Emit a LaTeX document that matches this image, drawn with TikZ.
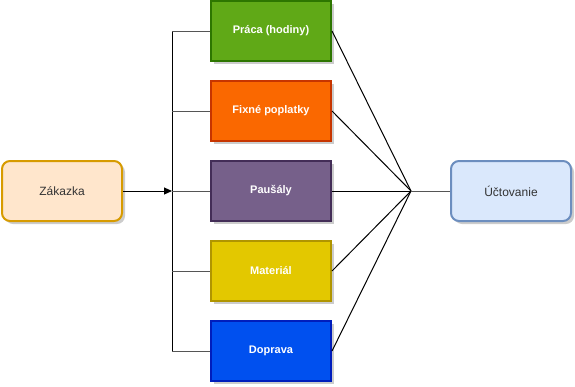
\documentclass[tikz,border=0pt]{standalone}
\usepackage{fontspec}
\setmainfont{Liberation Sans}
\usetikzlibrary{shadows,arrows.meta}
\definecolor{zfill}{HTML}{FFE6CC}\definecolor{zdraw}{HTML}{D79B00}
\definecolor{ufill}{HTML}{DAE8FC}\definecolor{udraw}{HTML}{6C8EBF}
\definecolor{gfill}{HTML}{60A917}\definecolor{gdraw}{HTML}{2D7600}
\definecolor{ofill}{HTML}{FA6800}\definecolor{odraw}{HTML}{C73500}
\definecolor{pfill}{HTML}{76608A}\definecolor{pdraw}{HTML}{432D57}
\definecolor{yfill}{HTML}{E3C800}\definecolor{ydraw}{HTML}{B09500}
\definecolor{bfill}{HTML}{0050EF}\definecolor{bdraw}{HTML}{001DBC}
\definecolor{branch}{HTML}{555555}
\tikzset{
  shad/.style={drop shadow={shadow xshift=3pt,shadow yshift=-3pt,fill=black,opacity=0.2}},
  catbox/.style={rectangle,draw,line width=2pt,minimum width=120pt,minimum height=60pt,inner sep=0pt,
    font=\fontsize{11}{13}\selectfont\bfseries,text=white,shad},
  endbox/.style={rectangle,rounded corners=8pt,draw,line width=2pt,minimum width=120pt,minimum height=60pt,inner sep=0pt,
    font=\fontsize{12}{14}\selectfont,text=black!80,shad},
  conn/.style={line width=1pt,black},
  br/.style={line width=1pt,branch}
}
\begin{document}
\begin{tikzpicture}[x=1pt,y=-1pt]
\useasboundingbox (0,0) rectangle (575,386);
\node[endbox,fill=zfill,draw=zdraw] (zak) at (62,191) {Zákazka};
\node[endbox,fill=ufill,draw=udraw] (uct) at (511,191) {Účtovanie};
\node[catbox,fill=gfill,draw=gdraw] (pra) at (271,31) {Práca (hodiny)};
\node[catbox,fill=ofill,draw=odraw] (fix) at (271,111) {Fixné poplatky};
\node[catbox,fill=pfill,draw=pdraw] (pau) at (271,191) {Paušály};
\node[catbox,fill=yfill,draw=ydraw] (mat) at (271,271) {Materiál};
\node[catbox,fill=bfill,draw=bdraw] (dop) at (271,351) {Doprava};
\coordinate (jl) at (172,191);
\coordinate (jt) at (172,31);
\coordinate (jb) at (172,351);
\coordinate (jr) at (411,191);
\draw[conn] (jt) -- (jb);
\draw[br] (jt) -- (pra.west);
\draw[br] (jl |- fix.west) -- (fix.west);
\draw[br] (jl) -- (pau.west);
\draw[br] (jl |- mat.west) -- (mat.west);
\draw[br] (jb) -- (dop.west);
\draw[conn,-{Triangle[length=8pt,width=7pt]}] (zak.east) -- (jl);
\foreach \n in {pra,fix,pau,mat,dop} \draw[conn] (\n.east) -- (jr);
\draw[br] (jr) -- (uct.west);
\end{tikzpicture}
\end{document}
